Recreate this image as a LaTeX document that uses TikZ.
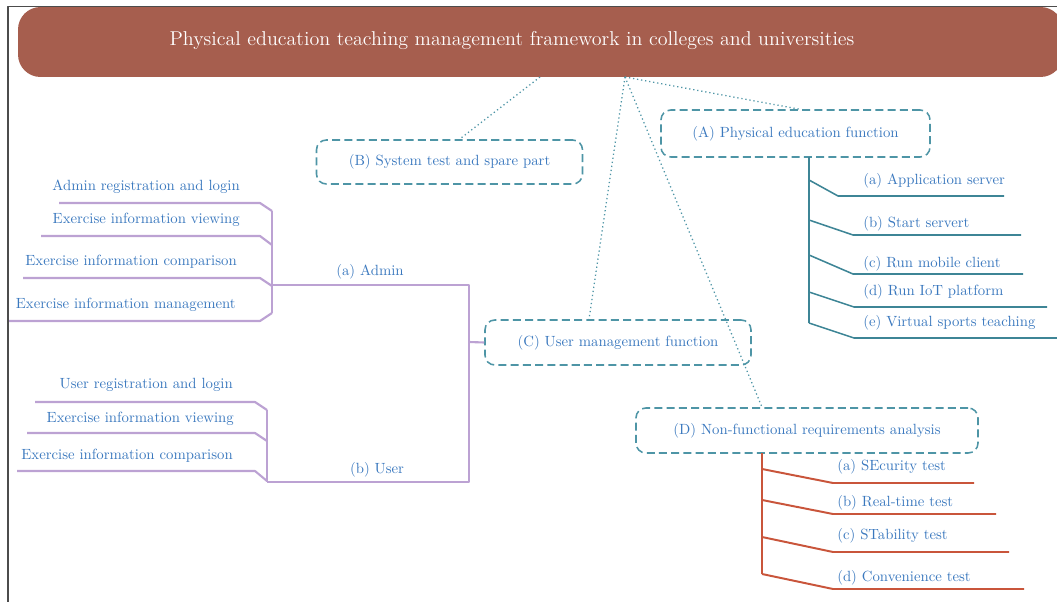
\documentclass[tikz,border=0pt]{standalone}
\usetikzlibrary{calc}
\definecolor{titlered}{HTML}{A65E4E}
\definecolor{boxteal}{HTML}{4E95A6}
\definecolor{lineteal}{HTML}{3E8596}
\definecolor{linered}{HTML}{C9553B}
\definecolor{linepurple}{HTML}{BCA2D3}
\definecolor{textblue}{HTML}{3A78BE}
\tikzset{
  func/.style={draw=boxteal, line width=1.1pt, dash pattern=on 5.7pt off 3pt,
    rounded corners=7pt, text=textblue, inner sep=0pt},
  leaf/.style={text=textblue, inner sep=0pt},
  link/.style={boxteal, dotted, line width=0.9pt},
  tealline/.style={lineteal, line width=1.1pt},
  redline/.style={linered, line width=1.4pt},
  purpline/.style={linepurple, line width=1.5pt, line join=round},
}
\begin{document}
\begin{tikzpicture}[x={(0.025cm,0)}, y={(0,-0.025cm)}, font=\fontsize{10.5}{12.5}\selectfont, line join=round]
\useasboundingbox (0,0) rectangle (1057,602);
% title
\fill[titlered, rounded corners=16pt] (18,7) rectangle (1063,77);
\node[text=white, font=\fontsize{14.25}{17}\selectfont] (title) at (512,41) {Physical education teaching management framework in colleges and universities};
\draw[gray!60!black, line width=1.1pt] (8,602) -- (8,6.5) -- (1057,6.5);

% the four parts
\node[func, minimum width=269*0.025cm, minimum height=47*0.025cm] (A) at (795.5,133.5) {(A) Physical education function};
\node[func, minimum width=266*0.025cm, minimum height=44*0.025cm] (B) at (449.5,162) {(B) System test and spare part};
\node[func, minimum width=266*0.025cm, minimum height=45*0.025cm] (C) at (618,342.5) {(C) User management function};
\node[func, minimum width=342*0.025cm, minimum height=45*0.025cm] (D) at (807,430.5) {(D) Non-functional requirements analysis};

\coordinate (hubB) at (540,77);
\coordinate (hub) at (625,77);
\draw[link] (hubB) -- ($(B.north)+(10,0)$);
\draw[link] (hub) -- ($(A.north)+(4,0)$);
\draw[link] (hub) -- ($(C.north)+(-29,0)$);
\draw[link] (hub) -- ($(D.north)+(-45,0)$);

% (A) branches
\coordinate (Atop) at (809,157);
\draw[tealline] (Atop) -- (809,323);
\draw[tealline] (809,180) -- (838,196) -- (1004,196);
\draw[tealline] (809,220) -- (853,235) -- (1021,235);
\draw[tealline] (809,255) -- (853,274) -- (1023,274);
\draw[tealline] (809,292) -- (854,307) -- (1047,307);
\draw[tealline] (809,323) -- (854,338) -- (1070,338);
\node[leaf, anchor=west] (Aa) at (863,181) {(a) Application server};
\node[leaf, anchor=west] (Ab) at (863,224) {(b) Start servert};
\node[leaf, anchor=west] (Ac) at (863,264) {(c) Run mobile client};
\node[leaf, anchor=west] (Ad) at (863,292) {(d) Run IoT platform};
\node[leaf, anchor=west] (Ae) at (863,323) {(e) Virtual sports teaching};

% (D) branches
\coordinate (Dtop) at (762,453);
\draw[redline] (Dtop) -- (762,574);
\draw[redline] (762,469) -- (833,483) -- (974,483);
\draw[redline] (762,500) -- (833,514) -- (996,514);
\draw[redline] (762,537) -- (833,552) -- (1009,552);
\draw[redline] (762,574) -- (833,589) -- (1024,589);
\node[leaf, anchor=west] (Da) at (837,467) {(a) SEcurity test};
\node[leaf, anchor=west] (Db) at (837,503) {(b) Real-time test};
\node[leaf, anchor=west] (Dc) at (837,536) {(c) STability test};
\node[leaf, anchor=west] (Dd) at (837,578) {(d) Convenience test};

% (C) branches
\coordinate (Cstem) at (469,342);
\draw[purpline] (C.west) -- (Cstem);
\draw[purpline] (272,285) -- (469,285) -- (469,482) -- (267,482);
\node[leaf] (admin) at (370,272) {(a) Admin};
\node[leaf] (user) at (377,470) {(b) User};

\draw[purpline] (272,211) -- (272,313);
\draw[purpline] (59,203) -- (260,203) -- (272,211);
\draw[purpline] (41,236) -- (260,236) -- (272,245);
\draw[purpline] (23,278) -- (260,278) -- (272,286);
\draw[purpline] (9,321) -- (260,321) -- (272,313);
\node[leaf, anchor=east] (ad1) at (240,187) {Admin registration and login};
\node[leaf, anchor=east] (ad2) at (240,220) {Exercise information viewing};
\node[leaf, anchor=east] (ad3) at (237,262) {Exercise information comparison};
\node[leaf, anchor=east] (ad4) at (236,305) {Exercise information management};

\draw[purpline] (267,410) -- (267,482);
\draw[purpline] (35,402) -- (255,402) -- (267,410);
\draw[purpline] (27,433) -- (255,433) -- (267,441);
\draw[purpline] (17,471) -- (255,471) -- (267,481);
\node[leaf, anchor=east] (us1) at (233,385) {User registration and login};
\node[leaf, anchor=east] (us2) at (234,419) {Exercise information viewing};
\node[leaf, anchor=east] (us3) at (233,456) {Exercise information comparison};
\end{tikzpicture}
\end{document}
